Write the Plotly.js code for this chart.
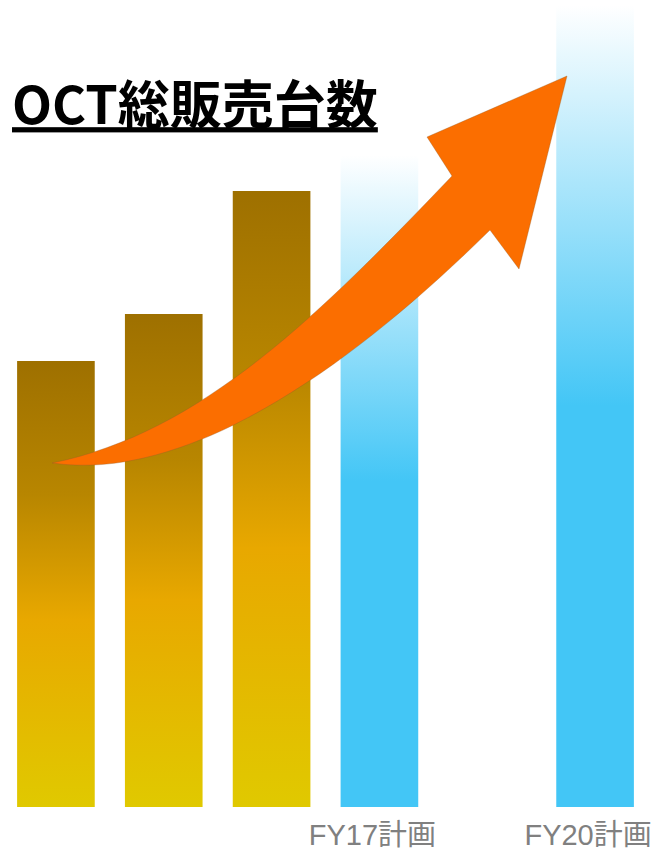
<!DOCTYPE html>
<html><head><meta charset="utf-8">
<script src="https://cdn.plot.ly/plotly-3.0.1.min.js"></script>
<style>html,body{margin:0;padding:0;background:#fff}</style>
</head><body>
<div id="chart" style="width:657px;height:854px"></div>
<script>
// ---- data ----
const tickLabels = ['', '', '', 'FY17計画', '', 'FY20計画'];
const salesValues = [446, 493, 616, 652, null, 802];
const seriesKind = ['actual', 'actual', 'actual', 'plan', null, 'plan'];
const titleText = 'OCT総販売台数';

// ---- styles ----
const BAR_W = 0.72;
const gradients = {
  actual: [[0, '#e0c900'], [0.42, '#e8a800'], [0.7, '#b88600'], [1, '#9e7000']],
  plan: [[0, '#43c6f6'], [0.5, '#43c6f6'], [1, '#ffffff']]
};
const M = {l: 2, r: 8, t: 0, b: 47};
const W = 657, H = 854;
const PW = W - M.l - M.r, PH = H - M.t - M.b;

const traces = [];
salesValues.forEach((v, i) => {
  if (v == null) return;
  const x = i + 1;
  traces.push({
    type: 'scatter', mode: 'lines',
    x: [x - BAR_W / 2, x + BAR_W / 2, x + BAR_W / 2, x - BAR_W / 2, x - BAR_W / 2],
    y: [0, 0, v, v, 0],
    fill: 'toself',
    line: {width: 0},
    fillgradient: {type: 'vertical', start: 0, stop: v, colorscale: gradients[seriesKind[i]]},
    hoverinfo: 'skip', showlegend: false
  });
});

// ---- decorative arrow (pixel outline converted to paper coords) ----
function pc(p) { return ((p[0] - M.l) / PW).toFixed(5) + ',' + ((H - M.b - p[1]) / PH).toFixed(5); }
const tail = [52, 463];
const upperC1 = [202, 433], upperC2 = [322, 312], notchU = [452, 176];
const head = [[427, 137], [567, 76], [519, 269], [490, 230]];
const lowerC1 = [340, 378], lowerC2 = [182, 482];
const path = 'M' + pc(tail) +
  ' C' + pc(upperC1) + ' ' + pc(upperC2) + ' ' + pc(notchU) +
  head.map(p => ' L' + pc(p)).join('') +
  ' C' + pc(lowerC1) + ' ' + pc(lowerC2) + ' ' + pc(tail) + ' Z';

const layout = {
  width: W, height: H,
  margin: M,
  paper_bgcolor: '#ffffff', plot_bgcolor: '#ffffff',
  showlegend: false,
  title: {
    text: titleText,
    x: 12 / W, xanchor: 'left', xref: 'container',
    y: 1 - 106 / H, yanchor: 'middle', yref: 'container',
    font: {family: 'Noto Sans CJK JP', size: 52, color: '#000000', weight: 'bold', lineposition: 'under'}
  },
  xaxis: {
    range: [0.5, salesValues.length + 0.5],
    tickmode: 'array',
    tickvals: tickLabels.map((_, i) => i + 1),
    ticktext: tickLabels,
    ticklabelshift: -7,
    ticklabelstandoff: 8,
    tickfont: {family: 'Liberation Sans, Noto Sans CJK JP', size: 29, color: '#808080'},
    showgrid: false, zeroline: false, showline: false, ticks: '',
    fixedrange: true
  },
  yaxis: {range: [0, PH], visible: false, showgrid: false, zeroline: false, fixedrange: true},
  shapes: [{
    type: 'path', xref: 'paper', yref: 'paper', layer: 'above',
    path: path,
    fillcolor: '#fb6e00',
    line: {color: 'rgba(150,95,40,0.35)', width: 1}
  }]
};

Plotly.newPlot('chart', traces, layout, {staticPlot: true, displayModeBar: false});
</script>
</body></html>
